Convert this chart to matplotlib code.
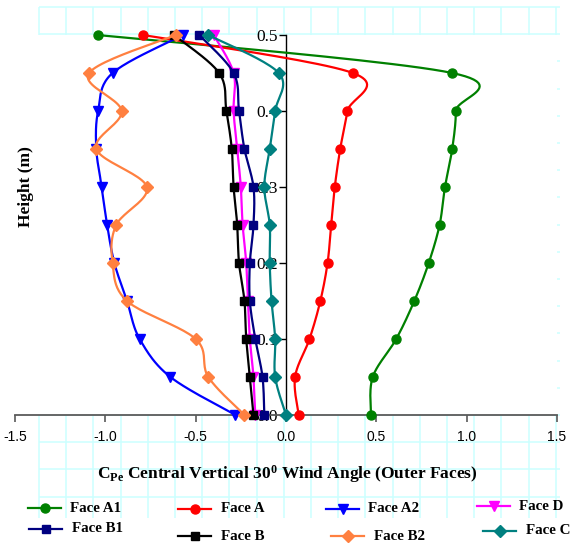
import numpy as np
import matplotlib
matplotlib.use("Agg")
import matplotlib.pyplot as plt

plt.rcParams["mathtext.fontset"] = "custom"
plt.rcParams["mathtext.rm"] = "Liberation Serif:bold"
plt.rcParams["mathtext.it"] = "Liberation Serif:bold"
plt.rcParams["mathtext.bf"] = "Liberation Serif:bold"

# ---- data -------------------------------------------------------------
heights = [0.0, 0.05, 0.10, 0.15, 0.20, 0.25, 0.30, 0.35, 0.40, 0.45, 0.50]

face_a1 = [0.47, 0.48, 0.61, 0.71, 0.79, 0.85, 0.88, 0.92, 0.94, 0.92, -1.04]
face_a = [0.07, 0.05, 0.13, 0.19, 0.23, 0.25, 0.27, 0.30, 0.34, 0.37, -0.79]
face_a2 = [-0.28, -0.64, -0.81, -0.88, -0.95, -0.99, -1.02, -1.05, -1.04, -0.96, -0.57]
face_d = [-0.17, -0.18, -0.20, -0.21, -0.22, -0.24, -0.25, -0.27, -0.29, -0.29, -0.40]
face_b1 = [-0.12, -0.13, -0.17, -0.20, -0.20, -0.18, -0.18, -0.23, -0.26, -0.29, -0.48]
face_b = [-0.18, -0.20, -0.22, -0.23, -0.26, -0.27, -0.29, -0.30, -0.33, -0.37, -0.62]
face_b2 = [-0.23, -0.43, -0.50, -0.88, -0.96, -0.94, -0.77, -1.05, -0.91, -1.09, -0.61]
face_c = [0.00, -0.06, -0.06, -0.08, -0.09, -0.09, -0.12, -0.09, -0.06, -0.04, -0.43]

series_names = ["Face A1", "Face A", "Face A2", "Face D",
                "Face B1", "Face B", "Face B2", "Face C"]
series_values = [face_a1, face_a, face_a2, face_d,
                 face_b1, face_b, face_b2, face_c]

x_ticks = [-1.5, -1.0, -0.5, 0.0, 0.5, 1.0, 1.5]
x_tick_labels = ["-1.5", "-1.0", "-0.5", "0.0", "0.5", "1.0", "1.5"]
y_ticks = [0.0, 0.1, 0.2, 0.3, 0.4, 0.5]
y_tick_labels = ["0.0", "0.1", "0.2", "0.3", "0.4", "0.5"]

# ---- styles -----------------------------------------------------------
styles = {
    "Face A1": dict(color="#008000", marker="o", ms=6.5),
    "Face A": dict(color="#FF0000", marker="o", ms=6.5),
    "Face A2": dict(color="#0000FF", marker="v", ms=7.5),
    "Face D": dict(color="#FF00FF", marker="v", ms=7.5),
    "Face B1": dict(color="#000080", marker="s", ms=6),
    "Face B": dict(color="#000000", marker="s", ms=6),
    "Face B2": dict(color="#FF8040", marker="D", ms=6),
    "Face C": dict(color="#008080", marker="D", ms=6),
}

# legend entry anchors in figure pixels: (line start x, y, text x)
legend_pos = {
    "Face A1": (28, 508, 70), "Face A": (178, 509, 221),
    "Face A2": (326, 509, 368), "Face D": (477, 506, 519),
    "Face B1": (29, 529, 72), "Face B": (178, 536, 221),
    "Face B2": (331, 536, 374), "Face C": (483, 531, 526),
}

W, H = 578, 546
fig = plt.figure(figsize=(W / 100, H / 100), dpi=100)
fig.patch.set_facecolor("white")

# ---- sheet cell grid behind the chart ---------------------------------
bg = fig.add_axes([0, 0, 1, 1], zorder=0)
bg.set_xlim(0, W)
bg.set_ylim(H, 0)
bg.axis("off")
GRID_COLOR = "#CCFFFF"
CELL = 27.2
GX0, GX1, GY0, GY1 = 39, 560, 7, 518
for k in range(20):
    gx = GX0 + CELL * k
    bg.plot([gx, gx], [GY0, GY1], color=GRID_COLOR, lw=1.1, solid_capstyle="butt")
for k in range(19):
    gy = GY0 + CELL * k
    bg.plot([GX0, GX1], [gy, gy], color=GRID_COLOR, lw=1.1, solid_capstyle="butt")

# ---- main plot --------------------------------------------------------
ax = fig.add_axes([15 / W, (H - 415) / H, (557 - 15) / W, (415 - 35) / H], zorder=1)
ax.set_facecolor("white")
ax.set_xlim(-1.5, 1.5)
ax.set_ylim(0, 0.5)

for side in ("top", "right"):
    ax.spines[side].set_visible(False)
ax.spines["left"].set_position(("data", 0))
ax.spines["left"].set_color("black")
ax.spines["left"].set_linewidth(1.0)
ax.spines["bottom"].set_color("#5a5a5a")
ax.spines["bottom"].set_linewidth(1.3)

ax.set_xticks(x_ticks)
ax.set_xticklabels(x_tick_labels, fontfamily="Liberation Sans", fontsize=10)
ax.set_yticks(y_ticks)
ax.set_yticklabels(y_tick_labels, fontfamily="Liberation Serif", fontsize=12.5)
ax.tick_params(axis="x", direction="out", length=5, width=1.2, color="#5a5a5a", pad=6)
ax.tick_params(axis="y", direction="out", length=5, width=1.0, color="black", pad=1)


def smooth(xs, ys, n=24):
    """Catmull-Rom style Bezier smoothing computed in display space."""
    pts = ax.transData.transform(np.column_stack([xs, ys]))
    P = np.vstack([pts[0], pts, pts[-1]])
    t = np.linspace(0, 1, n)[:, None]
    out = []
    for i in range(1, len(P) - 2):
        p0, p1, p2, p3 = P[i - 1], P[i], P[i + 1], P[i + 2]
        c1 = p1 + (p2 - p0) / 6.0
        c2 = p2 - (p3 - p1) / 6.0
        seg = ((1 - t) ** 3) * p1 + 3 * ((1 - t) ** 2) * t * c1 \
            + 3 * (1 - t) * (t ** 2) * c2 + (t ** 3) * p2
        out.append(seg if i == 1 else seg[1:])
    curve = np.vstack(out)
    return ax.transData.inverted().transform(curve)


for i, (name, vals) in enumerate(zip(series_names, series_values)):
    st = styles[name]
    z = 3 + i * 0.1
    curve = smooth(vals, heights)
    ax.plot(curve[:, 0], curve[:, 1], color=st["color"], lw=1.6,
            clip_on=False, zorder=z, solid_joinstyle="round")
    ax.plot(vals, heights, ls="none", marker=st["marker"], ms=st["ms"],
            color=st["color"], mec=st["color"], clip_on=False, zorder=z + 0.05)

# ---- labels -----------------------------------------------------------
fig.text(26 / W, 1 - 187 / H, "Height (m)", rotation=90, ha="center", va="center",
         fontfamily="Liberation Serif", fontweight="bold", fontsize=12.5)
fig.text(287 / W, 1 - 474 / H,
         r"C$_{\mathrm{Pe}}$ Central Vertical 30$^{\mathrm{0}}$ Wind Angle (Outer Faces)",
         ha="center", va="center", fontfamily="Liberation Serif",
         fontweight="bold", fontsize=12.5)

# ---- legend -----------------------------------------------------------
for name in series_names:
    st = styles[name]
    lx, ly, tx = legend_pos[name]
    bg.plot([lx, lx + 33], [ly, ly], color=st["color"], lw=1.6, zorder=5)
    bg.plot([lx + 16.5], [ly], ls="none", marker=st["marker"], ms=st["ms"],
            color=st["color"], zorder=6)
    bg.text(tx, ly, name, ha="left", va="center", fontfamily="Liberation Serif",
            fontweight="bold", fontsize=10.8, zorder=6)

fig.savefig("out.png", dpi=100, facecolor="white")
